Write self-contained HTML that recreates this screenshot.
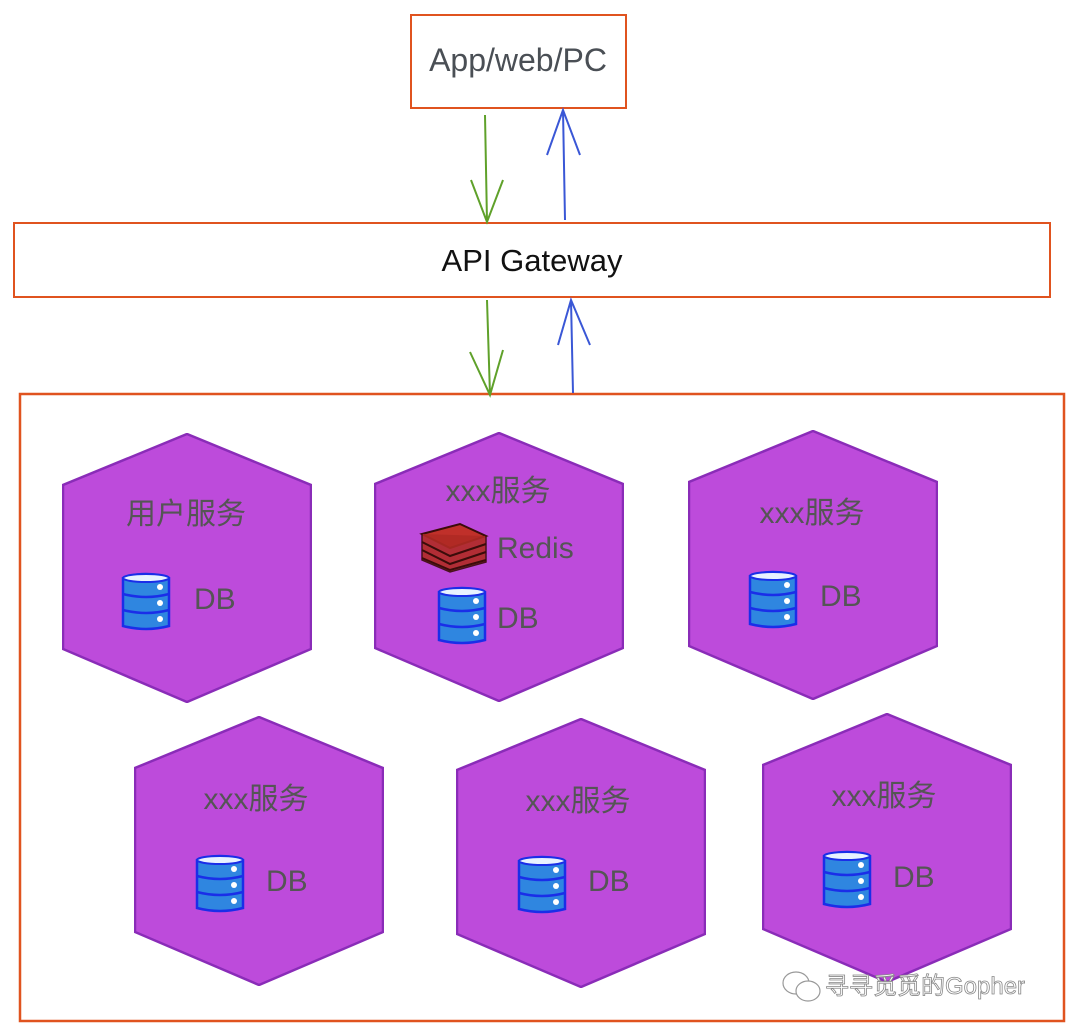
<!DOCTYPE html>
<html><head><meta charset="utf-8"><style>
html,body{margin:0;padding:0;background:#fff;width:1080px;height:1035px;overflow:hidden}
text{font-family:"Liberation Sans","Noto Sans CJK SC",sans-serif}
</style></head><body>
<svg width="1080" height="1035" viewBox="0 0 1080 1035" xmlns="http://www.w3.org/2000/svg">
<defs>
<symbol id="db" viewBox="0 0 52 60" width="52" height="60">
<path d="M3 6 Q26 -2 49 6 L49 54 Q26 60 3 54 Z" fill="#2f86e0" stroke="#1a2ee8" stroke-width="2.5"/>
<ellipse cx="26" cy="6" rx="23" ry="4" fill="#e8f2ff" stroke="#1a2ee8" stroke-width="2"/>
<path d="M3 22 Q26 28 49 22 M3 38 Q26 44 49 38" fill="none" stroke="#1a2ee8" stroke-width="2.5"/>
<circle cx="40" cy="15" r="3" fill="#fff"/><circle cx="40" cy="31" r="3" fill="#fff"/><circle cx="40" cy="47" r="3" fill="#fff"/>
</symbol>
<symbol id="hex" viewBox="0 0 250 270" width="250" height="270">
<polygon points="125,1 249,52 249,216 125,269 1,216 1,52" fill="#bd4bdb" stroke="#8a2cb8" stroke-width="2.5"/>
</symbol>
</defs>
<rect x="411" y="15" width="215" height="93" fill="#fff" stroke="#e0531f" stroke-width="2"/>
<text x="518" y="71" font-size="32" fill="#4a4f55" text-anchor="middle">App/web/PC</text>
<rect x="14" y="223" width="1036" height="74" fill="#fff" stroke="#e0531f" stroke-width="2"/>
<text x="532" y="271" font-size="31" fill="#111" text-anchor="middle">API Gateway</text>
<rect x="20" y="394" width="1044" height="627" fill="#fff" stroke="#e0531f" stroke-width="2.5"/>
<g fill="none" stroke-width="2">
<path d="M485 115 L487 222 M471 180 L487 222 L503 180" stroke="#5fa12a"/>
<path d="M565 220 L563 110 M547 155 L563 110 L580 155" stroke="#3a57d6"/>
<path d="M487 300 L490 395 M470 352 L490 395 L503 350" stroke="#5fa12a"/>
<path d="M573 393 L571 300 M558 345 L571 300 L590 345" stroke="#3a57d6"/>
</g>
<g transform="translate(62,433)"><use href="#hex"/>
<text x="124" y="91" font-size="30" fill="#555" text-anchor="middle">用户服务</text>
<use href="#db" x="58" y="139"/><text x="132" y="176" font-size="30" fill="#555">DB</text></g>

<g transform="translate(374,432)"><use href="#hex"/>
<text x="124" y="69" font-size="30" fill="#555" text-anchor="middle">xxx服务</text>
<g transform="translate(46,88)">
<path d="M2 14 L40 4 L66 16 L30 28 Z" fill="#c0302a" stroke="#3a0c0a" stroke-width="2"/>
<path d="M2 14 L2 40 L30 52 L66 42 L66 16" fill="#b02a24" stroke="#3a0c0a" stroke-width="1.5" opacity="0.9"/>
<path d="M2 22 L30 36 L66 24 M2 30 L30 44 L66 32 M2 38 L30 50 L66 40" fill="none" stroke="#3a0c0a" stroke-width="2"/>
</g>
<text x="123" y="126" font-size="30" fill="#555">Redis</text>
<use href="#db" x="62" y="154"/><text x="123" y="196" font-size="30" fill="#555">DB</text></g>

<g transform="translate(688,430)"><use href="#hex"/>
<text x="124" y="93" font-size="30" fill="#555" text-anchor="middle">xxx服务</text>
<use href="#db" x="59" y="140"/><text x="132" y="176" font-size="30" fill="#555">DB</text></g>

<g transform="translate(134,716)"><use href="#hex"/>
<text x="122" y="93" font-size="30" fill="#555" text-anchor="middle">xxx服务</text>
<use href="#db" x="60" y="138"/><text x="132" y="175" font-size="30" fill="#555">DB</text></g>

<g transform="translate(456,718)"><use href="#hex"/>
<text x="122" y="93" font-size="30" fill="#555" text-anchor="middle">xxx服务</text>
<use href="#db" x="60" y="137"/><text x="132" y="173" font-size="30" fill="#555">DB</text></g>

<g transform="translate(762,713)"><use href="#hex"/>
<text x="122" y="93" font-size="30" fill="#555" text-anchor="middle">xxx服务</text>
<use href="#db" x="59" y="137"/><text x="131" y="174" font-size="30" fill="#555">DB</text></g>
<g fill="#fff" stroke="#999" stroke-width="1.2">
<ellipse cx="796" cy="983" rx="13" ry="11"/><ellipse cx="808" cy="991" rx="12" ry="10"/>
</g>
<text x="825" y="994" font-size="24" fill="#fff" stroke="#888" stroke-width="0.8">寻寻觅觅的Gopher</text>
</svg>
</body></html>
